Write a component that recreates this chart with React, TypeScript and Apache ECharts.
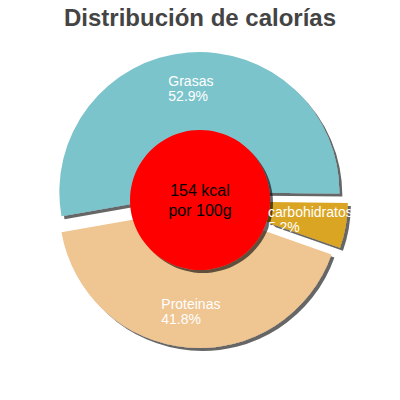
import React, { useEffect, useRef } from 'react';
import * as echarts from 'echarts';

// values
const categories = ['Grasas', 'carbohidratos', 'Proteinas'];
const percentages = [52.9, 5.2, 41.8];
const sliceColors = ['#7cc4cc', '#daa520', '#efc592'];
const centerLines = ['154 kcal', 'por 100g'];
const chartTitle = 'Distribución de calorías';

const FONT = '"Liberation Sans", Arial, sans-serif';

const shadow = {
  shadowBlur: 0,
  shadowOffsetX: 3,
  shadowOffsetY: 3,
  shadowColor: 'rgba(0, 0, 0, 0.6)',
};

const pieData = (withColor: boolean) =>
  categories.map((name, i) => ({
    name,
    value: percentages[i],
    selected: true,
    itemStyle: { color: withColor ? sliceColors[i] : 'transparent' },
  }));

const App: React.FC = () => {
  const chartRef = useRef<HTMLDivElement>(null);

  useEffect(() => {
    document.body.style.margin = '0';
    if (!chartRef.current) return;
    const chart = echarts.init(chartRef.current, undefined, { renderer: 'svg' });

    const basePie = {
      type: 'pie',
      center: [200, 200],
      radius: [62, 140],
      startAngle: 190,
      clockwise: true,
      selectedMode: 'multiple',
      selectedOffset: 8,
      silent: true,
      labelLine: { show: false },
    };

    const option = {
      animation: false,
      backgroundColor: '#fff',
      title: {
        text: chartTitle,
        left: 'center',
        top: 0,
        textStyle: {
          fontFamily: FONT,
          fontSize: 24,
          fontWeight: 'bold',
          color: '#444',
        },
      },
      // red centre disc, sits between the slices and their labels
      graphic: [
        {
          type: 'circle',
          z: 3,
          shape: { cx: 200, cy: 200, r: 70 },
          style: { fill: '#ff0000', ...shadow },
          silent: true,
        },
        {
          type: 'text',
          z: 3,
          z2: 10,
          x: 200,
          y: 200,
          silent: true,
          style: {
            text: centerLines.join('\n'),
            fill: '#000',
            font: `16px ${FONT}`,
            lineHeight: 20,
            align: 'center',
            verticalAlign: 'middle',
          },
        },
      ],
      series: [
        {
          ...basePie,
          name: 'calorias',
          z: 2,
          itemStyle: { ...shadow, borderWidth: 0 },
          select: { itemStyle: { ...shadow, borderWidth: 0 } },
          label: { show: false },
          data: pieData(true),
        },
        {
          ...basePie,
          name: 'etiquetas',
          zlevel: 1,
          z: 4,
          itemStyle: { borderWidth: 0 },
          select: { itemStyle: { borderWidth: 0 } },
          label: {
            show: true,
            position: 'inside',
            align: 'center',
            formatter: (p: any) => `{a|${p.name}}\n{a|${p.value}%}`,
            rich: {
              a: {
                align: 'left',
                color: '#fff',
                fontFamily: FONT,
                fontSize: 14,
                lineHeight: 15,
              },
            },
          },
          data: pieData(false),
        },
      ],
    };

    chart.setOption(option);
    return () => {
      chart.dispose();
    };
  }, []);

  return <div ref={chartRef} style={{ width: '400px', height: '400px' }} />;
};

export default App;
